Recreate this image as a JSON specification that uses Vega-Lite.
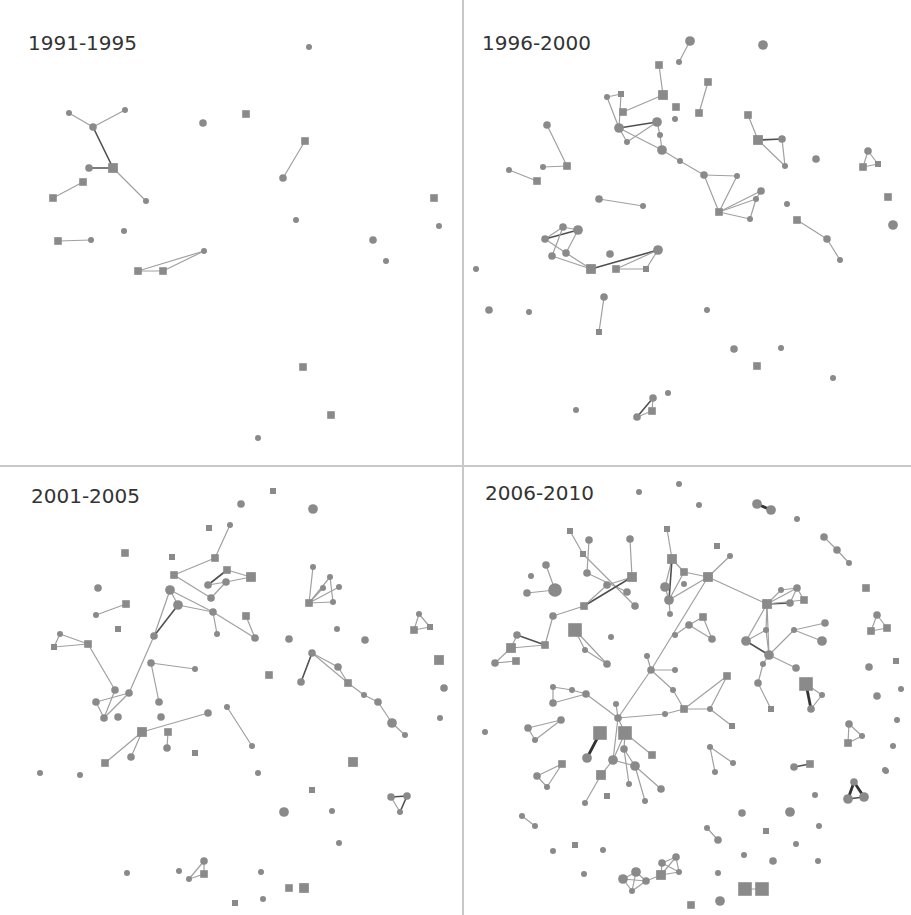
{
"$schema":"https://vega.github.io/schema/vega-lite/v6.json",
"width":911,"height":915,"padding":0,"autosize":{"type":"none"},
"background":"white",
"config":{"view":{"stroke":null}},
"datasets":{
"panels":[{"period":"1991-1995","x":28,"y":50},{"period":"1996-2000","x":482,"y":50},{"period":"2001-2005","x":31,"y":503},{"period":"2006-2010","x":485,"y":500}],
"nodes":[
{"x":309,"y":47,"t":"c","w":1},{"x":69,"y":113,"t":"c","w":1},{"x":125,"y":110,"t":"c","w":1},{"x":93,"y":127,"t":"c","w":2},{"x":203,"y":123,"t":"c","w":2},{"x":246,"y":114,"t":"s","w":2},{"x":305,"y":141,"t":"s","w":2},{"x":283,"y":178,"t":"c","w":2},{"x":89,"y":168,"t":"c","w":2},{"x":113,"y":168,"t":"s","w":3},{"x":83,"y":182,"t":"s","w":2},{"x":53,"y":198,"t":"s","w":2},{"x":146,"y":201,"t":"c","w":1},{"x":296,"y":220,"t":"c","w":1},{"x":124,"y":231,"t":"c","w":1},{"x":58,"y":241,"t":"s","w":2},{"x":91,"y":240,"t":"c","w":1},{"x":204,"y":251,"t":"c","w":1},{"x":138,"y":271,"t":"s","w":2},{"x":163,"y":271,"t":"s","w":2},{"x":434,"y":198,"t":"s","w":2},{"x":439,"y":226,"t":"c","w":1},{"x":373,"y":240,"t":"c","w":2},{"x":386,"y":261,"t":"c","w":1},{"x":303,"y":367,"t":"s","w":2},{"x":331,"y":415,"t":"s","w":2},{"x":258,"y":438,"t":"c","w":1},
{"x":690,"y":41,"t":"c","w":3},{"x":763,"y":45,"t":"c","w":3},{"x":679,"y":62,"t":"c","w":1},{"x":659,"y":65,"t":"s","w":2},{"x":708,"y":82,"t":"s","w":2},{"x":663,"y":95,"t":"s","w":3},{"x":607,"y":97,"t":"c","w":1},{"x":621,"y":94,"t":"s","w":1},{"x":623,"y":112,"t":"s","w":2},{"x":676,"y":107,"t":"s","w":2},{"x":675,"y":119,"t":"c","w":1},{"x":699,"y":113,"t":"s","w":2},{"x":748,"y":115,"t":"s","w":2},{"x":547,"y":125,"t":"c","w":2},{"x":619,"y":128,"t":"c","w":3},{"x":657,"y":122,"t":"c","w":3},{"x":660,"y":135,"t":"c","w":1},{"x":627,"y":142,"t":"c","w":1},{"x":662,"y":150,"t":"c","w":3},{"x":758,"y":140,"t":"s","w":3},{"x":782,"y":139,"t":"c","w":2},{"x":785,"y":166,"t":"c","w":1},{"x":816,"y":159,"t":"c","w":2},{"x":680,"y":161,"t":"c","w":1},{"x":704,"y":175,"t":"c","w":2},{"x":737,"y":176,"t":"c","w":1},{"x":868,"y":151,"t":"c","w":2},{"x":863,"y":167,"t":"s","w":2},{"x":878,"y":164,"t":"s","w":1},{"x":509,"y":170,"t":"c","w":1},{"x":537,"y":181,"t":"s","w":2},{"x":543,"y":167,"t":"c","w":1},{"x":567,"y":166,"t":"s","w":2},{"x":599,"y":199,"t":"c","w":2},{"x":643,"y":206,"t":"c","w":1},{"x":719,"y":212,"t":"s","w":2},{"x":761,"y":191,"t":"c","w":2},{"x":756,"y":199,"t":"c","w":1},{"x":750,"y":219,"t":"c","w":1},{"x":787,"y":204,"t":"c","w":1},{"x":797,"y":220,"t":"s","w":2},{"x":827,"y":239,"t":"c","w":2},{"x":840,"y":260,"t":"c","w":1},{"x":888,"y":197,"t":"s","w":2},{"x":893,"y":225,"t":"c","w":3},{"x":563,"y":227,"t":"c","w":2},{"x":578,"y":230,"t":"c","w":3},{"x":545,"y":239,"t":"c","w":2},{"x":552,"y":256,"t":"c","w":2},{"x":566,"y":253,"t":"c","w":2},{"x":591,"y":269,"t":"s","w":3},{"x":610,"y":254,"t":"c","w":2},{"x":616,"y":269,"t":"s","w":2},{"x":646,"y":269,"t":"s","w":1},{"x":658,"y":250,"t":"c","w":3},{"x":476,"y":269,"t":"c","w":1},{"x":489,"y":310,"t":"c","w":2},{"x":529,"y":312,"t":"c","w":1},{"x":604,"y":297,"t":"c","w":2},{"x":599,"y":332,"t":"s","w":1},{"x":707,"y":310,"t":"c","w":1},{"x":734,"y":349,"t":"c","w":2},{"x":781,"y":348,"t":"c","w":1},{"x":757,"y":366,"t":"s","w":2},{"x":833,"y":378,"t":"c","w":1},{"x":576,"y":410,"t":"c","w":1},{"x":668,"y":393,"t":"c","w":1},{"x":653,"y":398,"t":"c","w":2},{"x":652,"y":411,"t":"s","w":2},{"x":637,"y":417,"t":"c","w":2},
{"x":273,"y":491,"t":"s","w":1},{"x":241,"y":504,"t":"c","w":2},{"x":313,"y":509,"t":"c","w":3},{"x":209,"y":528,"t":"s","w":1},{"x":230,"y":525,"t":"c","w":1},{"x":125,"y":553,"t":"s","w":2},{"x":172,"y":557,"t":"s","w":1},{"x":215,"y":558,"t":"s","w":2},{"x":174,"y":575,"t":"s","w":2},{"x":227,"y":570,"t":"s","w":2},{"x":251,"y":577,"t":"s","w":3},{"x":226,"y":582,"t":"c","w":2},{"x":208,"y":585,"t":"c","w":2},{"x":211,"y":598,"t":"c","w":2},{"x":313,"y":567,"t":"c","w":1},{"x":330,"y":577,"t":"c","w":1},{"x":339,"y":587,"t":"c","w":1},{"x":323,"y":588,"t":"c","w":1},{"x":333,"y":602,"t":"c","w":1},{"x":309,"y":603,"t":"s","w":2},{"x":98,"y":588,"t":"c","w":2},{"x":96,"y":615,"t":"c","w":1},{"x":126,"y":604,"t":"s","w":2},{"x":170,"y":590,"t":"c","w":3},{"x":178,"y":605,"t":"c","w":3},{"x":213,"y":612,"t":"c","w":2},{"x":246,"y":616,"t":"s","w":2},{"x":419,"y":614,"t":"c","w":1},{"x":414,"y":630,"t":"s","w":2},{"x":430,"y":627,"t":"s","w":1},{"x":118,"y":629,"t":"s","w":1},{"x":60,"y":634,"t":"c","w":1},{"x":54,"y":647,"t":"s","w":1},{"x":88,"y":644,"t":"s","w":2},{"x":154,"y":636,"t":"c","w":2},{"x":217,"y":634,"t":"c","w":1},{"x":255,"y":638,"t":"c","w":2},{"x":289,"y":639,"t":"c","w":2},{"x":337,"y":629,"t":"c","w":1},{"x":365,"y":640,"t":"c","w":2},{"x":439,"y":660,"t":"s","w":3},{"x":444,"y":688,"t":"c","w":2},{"x":440,"y":718,"t":"c","w":1},{"x":151,"y":663,"t":"c","w":2},{"x":195,"y":669,"t":"c","w":1},{"x":269,"y":675,"t":"s","w":2},{"x":312,"y":653,"t":"c","w":2},{"x":338,"y":667,"t":"c","w":2},{"x":301,"y":682,"t":"c","w":2},{"x":348,"y":683,"t":"s","w":2},{"x":364,"y":695,"t":"c","w":1},{"x":378,"y":702,"t":"c","w":2},{"x":392,"y":723,"t":"c","w":3},{"x":405,"y":735,"t":"c","w":1},{"x":115,"y":690,"t":"c","w":2},{"x":129,"y":693,"t":"c","w":2},{"x":96,"y":702,"t":"c","w":2},{"x":104,"y":718,"t":"c","w":2},{"x":118,"y":717,"t":"c","w":2},{"x":159,"y":702,"t":"c","w":2},{"x":161,"y":717,"t":"c","w":2},{"x":208,"y":713,"t":"c","w":2},{"x":227,"y":707,"t":"c","w":1},{"x":252,"y":746,"t":"c","w":1},{"x":142,"y":732,"t":"s","w":3},{"x":168,"y":732,"t":"s","w":2},{"x":167,"y":748,"t":"c","w":2},{"x":131,"y":757,"t":"c","w":2},{"x":105,"y":763,"t":"s","w":2},{"x":195,"y":753,"t":"s","w":1},{"x":353,"y":762,"t":"s","w":3},{"x":40,"y":773,"t":"c","w":1},{"x":80,"y":775,"t":"c","w":1},{"x":258,"y":773,"t":"c","w":1},{"x":312,"y":790,"t":"s","w":1},{"x":284,"y":812,"t":"c","w":3},{"x":332,"y":811,"t":"c","w":1},{"x":391,"y":797,"t":"c","w":2},{"x":407,"y":796,"t":"c","w":2},{"x":400,"y":812,"t":"c","w":1},{"x":339,"y":843,"t":"c","w":1},{"x":127,"y":873,"t":"c","w":1},{"x":179,"y":871,"t":"c","w":1},{"x":204,"y":861,"t":"c","w":2},{"x":204,"y":874,"t":"s","w":2},{"x":189,"y":879,"t":"c","w":1},{"x":261,"y":872,"t":"c","w":1},{"x":289,"y":888,"t":"s","w":2},{"x":304,"y":888,"t":"s","w":3},{"x":235,"y":903,"t":"s","w":1},{"x":263,"y":899,"t":"c","w":1},
{"x":639,"y":492,"t":"c","w":1},{"x":679,"y":484,"t":"c","w":1},{"x":699,"y":505,"t":"c","w":1},{"x":757,"y":504,"t":"c","w":3},{"x":771,"y":510,"t":"c","w":3},{"x":797,"y":519,"t":"c","w":1},{"x":824,"y":537,"t":"c","w":2},{"x":837,"y":550,"t":"c","w":2},{"x":849,"y":563,"t":"c","w":1},{"x":570,"y":531,"t":"s","w":1},{"x":589,"y":540,"t":"c","w":2},{"x":630,"y":539,"t":"c","w":2},{"x":667,"y":529,"t":"s","w":1},{"x":583,"y":554,"t":"s","w":1},{"x":672,"y":559,"t":"s","w":3},{"x":684,"y":572,"t":"s","w":2},{"x":684,"y":584,"t":"c","w":1},{"x":546,"y":565,"t":"c","w":2},{"x":531,"y":576,"t":"c","w":1},{"x":527,"y":593,"t":"c","w":2},{"x":555,"y":590,"t":"c","w":4},{"x":587,"y":573,"t":"c","w":2},{"x":632,"y":577,"t":"s","w":3},{"x":607,"y":585,"t":"c","w":2},{"x":627,"y":592,"t":"c","w":2},{"x":635,"y":606,"t":"c","w":2},{"x":584,"y":606,"t":"s","w":2},{"x":553,"y":616,"t":"c","w":2},{"x":665,"y":587,"t":"c","w":3},{"x":669,"y":600,"t":"c","w":3},{"x":670,"y":614,"t":"c","w":1},{"x":717,"y":546,"t":"s","w":1},{"x":730,"y":556,"t":"c","w":1},{"x":708,"y":577,"t":"s","w":3},{"x":866,"y":588,"t":"s","w":2},{"x":767,"y":604,"t":"s","w":3},{"x":781,"y":590,"t":"c","w":1},{"x":797,"y":588,"t":"c","w":2},{"x":804,"y":600,"t":"s","w":2},{"x":790,"y":603,"t":"c","w":2},{"x":877,"y":615,"t":"c","w":2},{"x":871,"y":631,"t":"s","w":2},{"x":887,"y":628,"t":"s","w":2},{"x":517,"y":635,"t":"c","w":2},{"x":511,"y":648,"t":"s","w":3},{"x":495,"y":663,"t":"c","w":2},{"x":516,"y":661,"t":"s","w":2},{"x":545,"y":645,"t":"s","w":2},{"x":575,"y":630,"t":"s","w":4},{"x":585,"y":650,"t":"c","w":1},{"x":607,"y":664,"t":"c","w":2},{"x":611,"y":637,"t":"c","w":1},{"x":553,"y":687,"t":"c","w":1},{"x":572,"y":690,"t":"c","w":1},{"x":586,"y":694,"t":"c","w":2},{"x":553,"y":703,"t":"c","w":2},{"x":616,"y":704,"t":"c","w":1},{"x":618,"y":718,"t":"c","w":2},{"x":647,"y":656,"t":"c","w":1},{"x":651,"y":670,"t":"c","w":2},{"x":675,"y":670,"t":"c","w":1},{"x":673,"y":690,"t":"c","w":1},{"x":665,"y":714,"t":"c","w":1},{"x":528,"y":728,"t":"c","w":2},{"x":561,"y":720,"t":"c","w":2},{"x":535,"y":740,"t":"c","w":1},{"x":485,"y":732,"t":"c","w":1},{"x":600,"y":733,"t":"s","w":4},{"x":625,"y":733,"t":"s","w":4},{"x":587,"y":758,"t":"c","w":3},{"x":624,"y":749,"t":"c","w":2},{"x":613,"y":760,"t":"c","w":3},{"x":635,"y":766,"t":"c","w":3},{"x":652,"y":755,"t":"s","w":2},{"x":562,"y":764,"t":"s","w":2},{"x":703,"y":617,"t":"s","w":2},{"x":689,"y":625,"t":"c","w":2},{"x":675,"y":635,"t":"c","w":1},{"x":712,"y":639,"t":"c","w":2},{"x":746,"y":641,"t":"c","w":3},{"x":766,"y":630,"t":"c","w":1},{"x":769,"y":655,"t":"c","w":3},{"x":794,"y":630,"t":"c","w":1},{"x":825,"y":623,"t":"c","w":2},{"x":822,"y":641,"t":"c","w":3},{"x":796,"y":668,"t":"c","w":2},{"x":763,"y":664,"t":"c","w":1},{"x":758,"y":683,"t":"c","w":2},{"x":771,"y":709,"t":"s","w":1},{"x":727,"y":676,"t":"s","w":2},{"x":684,"y":709,"t":"s","w":2},{"x":710,"y":709,"t":"c","w":1},{"x":732,"y":726,"t":"s","w":1},{"x":806,"y":684,"t":"s","w":4},{"x":822,"y":695,"t":"c","w":1},{"x":811,"y":709,"t":"c","w":2},{"x":869,"y":667,"t":"c","w":2},{"x":896,"y":661,"t":"s","w":1},{"x":877,"y":696,"t":"c","w":2},{"x":901,"y":689,"t":"c","w":1},{"x":897,"y":720,"t":"c","w":1},{"x":849,"y":724,"t":"c","w":2},{"x":862,"y":736,"t":"c","w":1},{"x":848,"y":743,"t":"s","w":2},{"x":893,"y":746,"t":"c","w":1},{"x":885,"y":770,"t":"c","w":1},{"x":710,"y":747,"t":"c","w":1},{"x":733,"y":763,"t":"c","w":1},{"x":715,"y":772,"t":"c","w":1},{"x":794,"y":767,"t":"c","w":2},{"x":810,"y":764,"t":"s","w":2},{"x":537,"y":776,"t":"c","w":2},{"x":547,"y":787,"t":"c","w":1},{"x":601,"y":775,"t":"s","w":3},{"x":585,"y":803,"t":"c","w":1},{"x":607,"y":796,"t":"s","w":1},{"x":629,"y":784,"t":"c","w":1},{"x":645,"y":801,"t":"c","w":1},{"x":661,"y":789,"t":"c","w":2},{"x":522,"y":816,"t":"c","w":1},{"x":535,"y":826,"t":"c","w":1},{"x":575,"y":845,"t":"s","w":1},{"x":553,"y":851,"t":"c","w":1},{"x":603,"y":850,"t":"c","w":1},{"x":584,"y":874,"t":"c","w":1},{"x":623,"y":879,"t":"c","w":3},{"x":636,"y":872,"t":"c","w":3},{"x":646,"y":881,"t":"c","w":2},{"x":632,"y":891,"t":"c","w":1},{"x":661,"y":875,"t":"s","w":3},{"x":662,"y":863,"t":"c","w":2},{"x":676,"y":857,"t":"c","w":2},{"x":679,"y":872,"t":"c","w":1},{"x":691,"y":905,"t":"s","w":2},{"x":886,"y":771,"t":"c","w":1},{"x":854,"y":782,"t":"c","w":2},{"x":848,"y":799,"t":"c","w":3},{"x":864,"y":797,"t":"c","w":3},{"x":815,"y":795,"t":"c","w":1},{"x":742,"y":813,"t":"c","w":2},{"x":790,"y":812,"t":"c","w":3},{"x":819,"y":826,"t":"c","w":1},{"x":766,"y":831,"t":"s","w":1},{"x":707,"y":828,"t":"c","w":1},{"x":718,"y":840,"t":"c","w":2},{"x":796,"y":844,"t":"c","w":1},{"x":744,"y":855,"t":"c","w":1},{"x":773,"y":861,"t":"c","w":2},{"x":818,"y":861,"t":"c","w":1},{"x":718,"y":873,"t":"c","w":1},{"x":745,"y":889,"t":"s","w":4},{"x":762,"y":889,"t":"s","w":4},{"x":720,"y":901,"t":"c","w":3}
],
"edges":[
{"x":69,"y":113,"x2":93,"y2":127,"s":1},{"x":125,"y":110,"x2":93,"y2":127,"s":1},{"x":93,"y":127,"x2":113,"y2":168,"s":2},{"x":89,"y":168,"x2":113,"y2":168,"s":2},{"x":113,"y":168,"x2":146,"y2":201,"s":1},{"x":83,"y":182,"x2":53,"y2":198,"s":1},{"x":58,"y":241,"x2":91,"y2":240,"s":1},{"x":305,"y":141,"x2":283,"y2":178,"s":1},{"x":138,"y":271,"x2":163,"y2":271,"s":1},{"x":138,"y":271,"x2":204,"y2":251,"s":1},{"x":163,"y":271,"x2":204,"y2":251,"s":1},
{"x":690,"y":41,"x2":679,"y2":62,"s":1},{"x":659,"y":65,"x2":663,"y2":95,"s":1},{"x":663,"y":95,"x2":623,"y2":112,"s":1},{"x":708,"y":82,"x2":699,"y2":113,"s":1},{"x":607,"y":97,"x2":621,"y2":94,"s":1},{"x":621,"y":94,"x2":619,"y2":128,"s":1},{"x":607,"y":97,"x2":619,"y2":128,"s":1},{"x":619,"y":128,"x2":657,"y2":122,"s":2},{"x":619,"y":128,"x2":627,"y2":142,"s":1},{"x":619,"y":128,"x2":662,"y2":150,"s":1},{"x":657,"y":122,"x2":660,"y2":135,"s":1},{"x":660,"y":135,"x2":662,"y2":150,"s":1},{"x":627,"y":142,"x2":657,"y2":122,"s":1},{"x":662,"y":150,"x2":680,"y2":161,"s":1},{"x":680,"y":161,"x2":704,"y2":175,"s":1},{"x":704,"y":175,"x2":737,"y2":176,"s":1},{"x":704,"y":175,"x2":719,"y2":212,"s":1},{"x":737,"y":176,"x2":719,"y2":212,"s":1},{"x":719,"y":212,"x2":761,"y2":191,"s":1},{"x":719,"y":212,"x2":756,"y2":199,"s":1},{"x":719,"y":212,"x2":750,"y2":219,"s":1},{"x":756,"y":199,"x2":750,"y2":219,"s":1},{"x":761,"y":191,"x2":756,"y2":199,"s":1},{"x":748,"y":115,"x2":758,"y2":140,"s":1},{"x":758,"y":140,"x2":782,"y2":139,"s":2},{"x":758,"y":140,"x2":785,"y2":166,"s":1},{"x":782,"y":139,"x2":785,"y2":166,"s":1},{"x":868,"y":151,"x2":863,"y2":167,"s":1},{"x":868,"y":151,"x2":878,"y2":164,"s":1},{"x":863,"y":167,"x2":878,"y2":164,"s":1},{"x":509,"y":170,"x2":537,"y2":181,"s":1},{"x":543,"y":167,"x2":567,"y2":166,"s":1},{"x":547,"y":125,"x2":567,"y2":166,"s":1},{"x":599,"y":199,"x2":643,"y2":206,"s":1},{"x":797,"y":220,"x2":827,"y2":239,"s":1},{"x":827,"y":239,"x2":840,"y2":260,"s":1},{"x":545,"y":239,"x2":578,"y2":230,"s":2},{"x":545,"y":239,"x2":563,"y2":227,"s":1},{"x":563,"y":227,"x2":578,"y2":230,"s":1},{"x":563,"y":227,"x2":552,"y2":256,"s":1},{"x":578,"y":230,"x2":566,"y2":253,"s":1},{"x":545,"y":239,"x2":566,"y2":253,"s":1},{"x":552,"y":256,"x2":591,"y2":269,"s":1},{"x":566,"y":253,"x2":591,"y2":269,"s":1},{"x":591,"y":269,"x2":658,"y2":250,"s":2},{"x":616,"y":269,"x2":646,"y2":269,"s":1},{"x":646,"y":269,"x2":658,"y2":250,"s":1},{"x":616,"y":269,"x2":658,"y2":250,"s":1},{"x":604,"y":297,"x2":599,"y2":332,"s":1},{"x":653,"y":398,"x2":652,"y2":411,"s":1},{"x":652,"y":411,"x2":637,"y2":417,"s":1},{"x":653,"y":398,"x2":637,"y2":417,"s":2},
{"x":230,"y":525,"x2":215,"y2":558,"s":1},{"x":215,"y":558,"x2":174,"y2":575,"s":1},{"x":174,"y":575,"x2":211,"y2":598,"s":1},{"x":227,"y":570,"x2":251,"y2":577,"s":1},{"x":227,"y":570,"x2":208,"y2":585,"s":2},{"x":226,"y":582,"x2":251,"y2":577,"s":1},{"x":208,"y":585,"x2":226,"y2":582,"s":1},{"x":226,"y":582,"x2":211,"y2":598,"s":1},{"x":313,"y":567,"x2":309,"y2":603,"s":1},{"x":330,"y":577,"x2":309,"y2":603,"s":1},{"x":339,"y":587,"x2":309,"y2":603,"s":1},{"x":323,"y":588,"x2":309,"y2":603,"s":1},{"x":333,"y":602,"x2":309,"y2":603,"s":1},{"x":330,"y":577,"x2":333,"y2":602,"s":1},{"x":96,"y":615,"x2":126,"y2":604,"s":1},{"x":170,"y":590,"x2":178,"y2":605,"s":1},{"x":170,"y":590,"x2":213,"y2":612,"s":1},{"x":178,"y":605,"x2":213,"y2":612,"s":1},{"x":213,"y":612,"x2":217,"y2":634,"s":1},{"x":213,"y":612,"x2":255,"y2":638,"s":1},{"x":246,"y":616,"x2":255,"y2":638,"s":1},{"x":170,"y":590,"x2":154,"y2":636,"s":1},{"x":178,"y":605,"x2":154,"y2":636,"s":2},{"x":154,"y":636,"x2":129,"y2":693,"s":1},{"x":60,"y":634,"x2":88,"y2":644,"s":1},{"x":60,"y":634,"x2":54,"y2":647,"s":1},{"x":54,"y":647,"x2":88,"y2":644,"s":1},{"x":88,"y":644,"x2":115,"y2":690,"s":1},{"x":115,"y":690,"x2":104,"y2":718,"s":1},{"x":96,"y":702,"x2":129,"y2":693,"s":1},{"x":96,"y":702,"x2":104,"y2":718,"s":1},{"x":104,"y":718,"x2":129,"y2":693,"s":1},{"x":151,"y":663,"x2":195,"y2":669,"s":1},{"x":151,"y":663,"x2":159,"y2":702,"s":1},{"x":142,"y":732,"x2":208,"y2":713,"s":1},{"x":142,"y":732,"x2":105,"y2":763,"s":1},{"x":142,"y":732,"x2":131,"y2":757,"s":1},{"x":168,"y":732,"x2":167,"y2":748,"s":1},{"x":227,"y":707,"x2":252,"y2":746,"s":1},{"x":312,"y":653,"x2":301,"y2":682,"s":2},{"x":312,"y":653,"x2":338,"y2":667,"s":1},{"x":312,"y":653,"x2":348,"y2":683,"s":1},{"x":338,"y":667,"x2":348,"y2":683,"s":1},{"x":348,"y":683,"x2":364,"y2":695,"s":1},{"x":364,"y":695,"x2":378,"y2":702,"s":1},{"x":378,"y":702,"x2":392,"y2":723,"s":1},{"x":392,"y":723,"x2":405,"y2":735,"s":1},{"x":419,"y":614,"x2":414,"y2":630,"s":1},{"x":419,"y":614,"x2":430,"y2":627,"s":1},{"x":414,"y":630,"x2":430,"y2":627,"s":1},{"x":391,"y":797,"x2":407,"y2":796,"s":2},{"x":391,"y":797,"x2":400,"y2":812,"s":1},{"x":407,"y":796,"x2":400,"y2":812,"s":2},{"x":204,"y":861,"x2":204,"y2":874,"s":1},{"x":204,"y":861,"x2":189,"y2":879,"s":1},{"x":189,"y":879,"x2":204,"y2":874,"s":1},
{"x":757,"y":504,"x2":771,"y2":510,"s":3},{"x":824,"y":537,"x2":837,"y2":550,"s":1},{"x":837,"y":550,"x2":849,"y2":563,"s":1},{"x":570,"y":531,"x2":583,"y2":554,"s":1},{"x":589,"y":540,"x2":587,"y2":573,"s":1},{"x":583,"y":554,"x2":635,"y2":606,"s":1},{"x":587,"y":573,"x2":627,"y2":592,"s":1},{"x":630,"y":539,"x2":632,"y2":577,"s":1},{"x":632,"y":577,"x2":607,"y2":585,"s":1},{"x":632,"y":577,"x2":584,"y2":606,"s":2},{"x":607,"y":585,"x2":584,"y2":606,"s":1},{"x":584,"y":606,"x2":553,"y2":616,"s":1},{"x":546,"y":565,"x2":555,"y2":590,"s":1},{"x":527,"y":593,"x2":555,"y2":590,"s":1},{"x":667,"y":529,"x2":672,"y2":559,"s":1},{"x":672,"y":559,"x2":684,"y2":572,"s":1},{"x":672,"y":559,"x2":665,"y2":587,"s":1},{"x":672,"y":559,"x2":669,"y2":600,"s":2},{"x":684,"y":572,"x2":669,"y2":600,"s":1},{"x":665,"y":587,"x2":669,"y2":600,"s":1},{"x":669,"y":600,"x2":670,"y2":614,"s":1},{"x":684,"y":572,"x2":708,"y2":577,"s":1},{"x":730,"y":556,"x2":708,"y2":577,"s":1},{"x":708,"y":577,"x2":767,"y2":604,"s":1},{"x":669,"y":600,"x2":708,"y2":577,"s":1},{"x":767,"y":604,"x2":781,"y2":590,"s":1},{"x":767,"y":604,"x2":797,"y2":588,"s":1},{"x":767,"y":604,"x2":790,"y2":603,"s":2},{"x":767,"y":604,"x2":804,"y2":600,"s":1},{"x":797,"y":588,"x2":790,"y2":603,"s":1},{"x":797,"y":588,"x2":804,"y2":600,"s":1},{"x":781,"y":590,"x2":797,"y2":588,"s":1},{"x":877,"y":615,"x2":871,"y2":631,"s":1},{"x":877,"y":615,"x2":887,"y2":628,"s":1},{"x":871,"y":631,"x2":887,"y2":628,"s":1},{"x":517,"y":635,"x2":545,"y2":645,"s":2},{"x":517,"y":635,"x2":511,"y2":648,"s":1},{"x":511,"y":648,"x2":545,"y2":645,"s":1},{"x":511,"y":648,"x2":495,"y2":663,"s":1},{"x":495,"y":663,"x2":516,"y2":661,"s":1},{"x":545,"y":645,"x2":553,"y2":616,"s":1},{"x":575,"y":630,"x2":585,"y2":650,"s":1},{"x":585,"y":650,"x2":607,"y2":664,"s":1},{"x":575,"y":630,"x2":607,"y2":664,"s":1},{"x":553,"y":687,"x2":572,"y2":690,"s":1},{"x":572,"y":690,"x2":586,"y2":694,"s":1},{"x":553,"y":687,"x2":553,"y2":703,"s":1},{"x":553,"y":703,"x2":586,"y2":694,"s":1},{"x":586,"y":694,"x2":618,"y2":718,"s":1},{"x":616,"y":704,"x2":618,"y2":718,"s":1},{"x":618,"y":718,"x2":651,"y2":670,"s":1},{"x":651,"y":670,"x2":675,"y2":670,"s":1},{"x":651,"y":670,"x2":647,"y2":656,"s":1},{"x":651,"y":670,"x2":673,"y2":690,"s":1},{"x":673,"y":690,"x2":684,"y2":709,"s":1},{"x":651,"y":670,"x2":708,"y2":577,"s":1},{"x":618,"y":718,"x2":665,"y2":714,"s":1},{"x":665,"y":714,"x2":684,"y2":709,"s":1},{"x":684,"y":709,"x2":727,"y2":676,"s":1},{"x":684,"y":709,"x2":710,"y2":709,"s":1},{"x":710,"y":709,"x2":727,"y2":676,"s":1},{"x":710,"y":709,"x2":732,"y2":726,"s":1},{"x":618,"y":718,"x2":625,"y2":733,"s":1},{"x":625,"y":733,"x2":624,"y2":749,"s":1},{"x":625,"y":733,"x2":652,"y2":755,"s":1},{"x":625,"y":733,"x2":613,"y2":760,"s":1},{"x":624,"y":749,"x2":635,"y2":766,"s":1},{"x":613,"y":760,"x2":635,"y2":766,"s":1},{"x":618,"y":718,"x2":613,"y2":760,"s":1},{"x":600,"y":733,"x2":587,"y2":758,"s":3},{"x":613,"y":760,"x2":601,"y2":775,"s":1},{"x":624,"y":749,"x2":629,"y2":784,"s":1},{"x":635,"y":766,"x2":645,"y2":801,"s":1},{"x":635,"y":766,"x2":661,"y2":789,"s":1},{"x":528,"y":728,"x2":561,"y2":720,"s":1},{"x":528,"y":728,"x2":535,"y2":740,"s":1},{"x":535,"y":740,"x2":561,"y2":720,"s":1},{"x":562,"y":764,"x2":537,"y2":776,"s":1},{"x":537,"y":776,"x2":547,"y2":787,"s":1},{"x":547,"y":787,"x2":562,"y2":764,"s":1},{"x":601,"y":775,"x2":585,"y2":803,"s":1},{"x":703,"y":617,"x2":689,"y2":625,"s":1},{"x":703,"y":617,"x2":712,"y2":639,"s":1},{"x":689,"y":625,"x2":712,"y2":639,"s":1},{"x":689,"y":625,"x2":675,"y2":635,"s":1},{"x":767,"y":604,"x2":746,"y2":641,"s":1},{"x":767,"y":604,"x2":766,"y2":630,"s":1},{"x":767,"y":604,"x2":769,"y2":655,"s":1},{"x":746,"y":641,"x2":766,"y2":630,"s":1},{"x":746,"y":641,"x2":769,"y2":655,"s":2},{"x":766,"y":630,"x2":769,"y2":655,"s":1},{"x":769,"y":655,"x2":794,"y2":630,"s":1},{"x":794,"y":630,"x2":825,"y2":623,"s":1},{"x":794,"y":630,"x2":822,"y2":641,"s":1},{"x":769,"y":655,"x2":796,"y2":668,"s":1},{"x":769,"y":655,"x2":763,"y2":664,"s":1},{"x":763,"y":664,"x2":758,"y2":683,"s":1},{"x":758,"y":683,"x2":771,"y2":709,"s":1},{"x":806,"y":684,"x2":811,"y2":709,"s":3},{"x":806,"y":684,"x2":822,"y2":695,"s":1},{"x":822,"y":695,"x2":811,"y2":709,"s":1},{"x":849,"y":724,"x2":862,"y2":736,"s":1},{"x":849,"y":724,"x2":848,"y2":743,"s":1},{"x":862,"y":736,"x2":848,"y2":743,"s":1},{"x":710,"y":747,"x2":733,"y2":763,"s":1},{"x":710,"y":747,"x2":715,"y2":772,"s":1},{"x":794,"y":767,"x2":810,"y2":764,"s":2},{"x":522,"y":816,"x2":535,"y2":826,"s":1},{"x":623,"y":879,"x2":636,"y2":872,"s":1},{"x":623,"y":879,"x2":646,"y2":881,"s":1},{"x":623,"y":879,"x2":632,"y2":891,"s":1},{"x":636,"y":872,"x2":646,"y2":881,"s":1},{"x":636,"y":872,"x2":632,"y2":891,"s":1},{"x":646,"y":881,"x2":632,"y2":891,"s":1},{"x":646,"y":881,"x2":661,"y2":875,"s":1},{"x":661,"y":875,"x2":662,"y2":863,"s":1},{"x":661,"y":875,"x2":676,"y2":857,"s":1},{"x":661,"y":875,"x2":679,"y2":872,"s":1},{"x":662,"y":863,"x2":676,"y2":857,"s":1},{"x":662,"y":863,"x2":679,"y2":872,"s":1},{"x":676,"y":857,"x2":679,"y2":872,"s":1},{"x":854,"y":782,"x2":848,"y2":799,"s":3},{"x":854,"y":782,"x2":864,"y2":797,"s":3},{"x":848,"y":799,"x2":864,"y2":797,"s":2},{"x":707,"y":828,"x2":718,"y2":840,"s":1},{"x":745,"y":889,"x2":762,"y2":889,"s":1}
]
},
"layer":[
{"data":{"values":[{"v":463}]},"mark":{"type":"rule","color":"#c8c8c8","strokeWidth":2},
 "encoding":{"x":{"field":"v","type":"quantitative","scale":{"domain":[0,911],"nice":false,"zero":false},"axis":null}}},
{"data":{"values":[{"v":466}]},"mark":{"type":"rule","color":"#c8c8c8","strokeWidth":2},
 "encoding":{"y":{"field":"v","type":"quantitative","scale":{"domain":[0,915],"nice":false,"zero":false,"reverse":true},"axis":null}}},
{"data":{"name":"edges"},"mark":{"type":"rule","strokeCap":"round"},
 "encoding":{
  "x":{"field":"x","type":"quantitative","scale":{"domain":[0,911],"nice":false,"zero":false},"axis":null},
  "y":{"field":"y","type":"quantitative","scale":{"domain":[0,915],"nice":false,"zero":false,"reverse":true},"axis":null},
  "x2":{"field":"x2"},"y2":{"field":"y2"},
  "color":{"field":"s","type":"ordinal","scale":{"domain":[1,2,3],"range":["#a0a0a0","#505050","#333333"]},"legend":null},
  "strokeWidth":{"field":"s","type":"quantitative","scale":{"domain":[1,2,3],"range":[1.2,1.6,2.8]},"legend":null}
 }},
{"data":{"name":"nodes"},"mark":{"type":"point","filled":true,"opacity":1,"color":"#8a8a8a"},
 "encoding":{
  "x":{"field":"x","type":"quantitative","scale":{"domain":[0,911],"nice":false,"zero":false},"axis":null},
  "y":{"field":"y","type":"quantitative","scale":{"domain":[0,915],"nice":false,"zero":false,"reverse":true},"axis":null},
  "shape":{"field":"t","type":"nominal","scale":{"domain":["c","s"],"range":["circle","square"]},"legend":null},
  "size":{"field":"w","type":"quantitative","scale":{"domain":[1,2,3,4],"range":[36,58,95,185]},"legend":null}
 }},
{"data":{"name":"panels"},"mark":{"type":"text","align":"left","baseline":"alphabetic","font":"DejaVu Sans","fontSize":20,"color":"#333333"},
 "encoding":{
  "x":{"field":"x","type":"quantitative","scale":{"domain":[0,911],"nice":false,"zero":false},"axis":null},
  "y":{"field":"y","type":"quantitative","scale":{"domain":[0,915],"nice":false,"zero":false,"reverse":true},"axis":null},
  "text":{"field":"period"}
 }}
]
}
